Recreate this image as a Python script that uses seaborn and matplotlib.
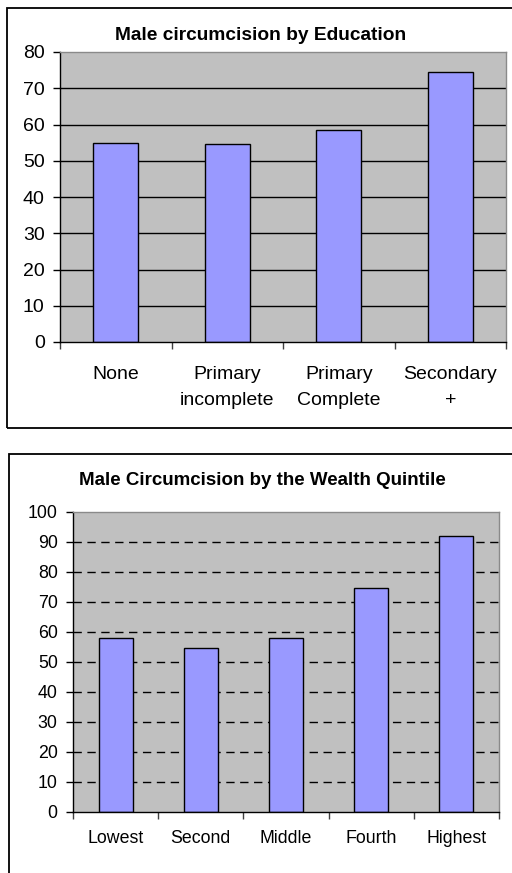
import seaborn as sns
import matplotlib.pyplot as plt
import matplotlib.patches as mpatches
import pandas as pd

# data
edu_labels = ["None", "Primary\nincomplete", "Primary\nComplete", "Secondary\n+"]
edu_values = [55.0, 54.6, 58.6, 74.6]
wealth_labels = ["Lowest", "Second", "Middle", "Fourth", "Highest"]
wealth_values = [58.1, 54.8, 58.1, 74.6, 91.9]

sns.set_style("white")
plt.rcParams['font.family'] = ['Liberation Sans', 'DejaVu Sans']
plt.rcParams.update({"text.color": "black", "xtick.color": "black", "ytick.color": "black",
                     "axes.labelcolor": "black"})

W, H = 512, 873
fig = plt.figure(figsize=(W / 100, H / 100), dpi=100)

def px_axes(left, top, right, bottom):
    return fig.add_axes([left / W, 1 - bottom / H, (right - left) / W, (bottom - top) / H])

def frame(left, top, right, bottom):
    fig.patches.append(mpatches.Rectangle((left / W, 1 - bottom / H), (right - left) / W, (bottom - top) / H,
                                          transform=fig.transFigure, fill=False, edgecolor="black", lw=1.3))

def style_axes(ax, cats, vmax, step, fs, pad_y, pad_x, dashed):
    n = len(cats)
    ax.set_facecolor("#C0C0C0")
    ax.set_xlim(-0.5, n - 0.5)
    ax.set_ylim(0, vmax)
    ax.set_yticks(range(0, vmax + 1, step))
    ax.set_xticks(range(n))
    ax.set_xticklabels(cats, fontsize=fs, linespacing=1.7, color="black")
    ax.set_xticks([i - 0.5 for i in range(n + 1)], minor=True)
    ax.tick_params(axis="x", which="major", length=0, pad=pad_x)
    ax.tick_params(axis="x", which="minor", length=5, width=1, color="#404040", direction="out", bottom=True)
    ax.tick_params(axis="y", length=5, width=1, color="black", direction="out", pad=pad_y,
                   labelsize=fs, labelcolor="black", left=True)
    ax.set_xlabel("")
    ax.set_ylabel("")
    for s in ["top", "right"]:
        ax.spines[s].set_color("#8a8a8a")
        ax.spines[s].set_linewidth(1)
    for s in ["left", "bottom"]:
        ax.spines[s].set_color("black")
        ax.spines[s].set_linewidth(1)
    for v in range(step, vmax, step):
        ax.axhline(v, color="black", lw=1, ls=(0, (6, 4)) if dashed else "-", zorder=0.5)
    ax.set_axisbelow(True)

# top chart
frame(7, 8, 530, 428)
ax1 = px_axes(60, 52, 506, 342)
df1 = pd.DataFrame({"cat": edu_labels, "val": edu_values})
sns.barplot(data=df1, x="cat", y="val", order=edu_labels, color="#9999FF", saturation=1,
            width=0.4, edgecolor="black", linewidth=1, ax=ax1, zorder=2)
style_axes(ax1, edu_labels, 80, 10, 14, 6, 17, False)
fig.text(261 / W, 1 - 36 / H, "Male circumcision by Education", ha="center", va="center",
         fontsize=13.8, fontweight="bold", color="black")

# bottom chart
frame(9, 454, 530, 900)
ax2 = px_axes(73, 512, 499, 812)
df2 = pd.DataFrame({"cat": wealth_labels, "val": wealth_values})
sns.barplot(data=df2, x="cat", y="val", order=wealth_labels, color="#9999FF", saturation=1,
            width=0.4, edgecolor="black", linewidth=1, ax=ax2, zorder=2)
style_axes(ax2, wealth_labels, 100, 10, 12.8, 6, 13, True)
fig.text(262 / W, 1 - 480 / H, "Male Circumcision by the Wealth Quintile", ha="center", va="center",
         fontsize=13.5, fontweight="bold", color="black")

fig.savefig("out.png", dpi=100)
